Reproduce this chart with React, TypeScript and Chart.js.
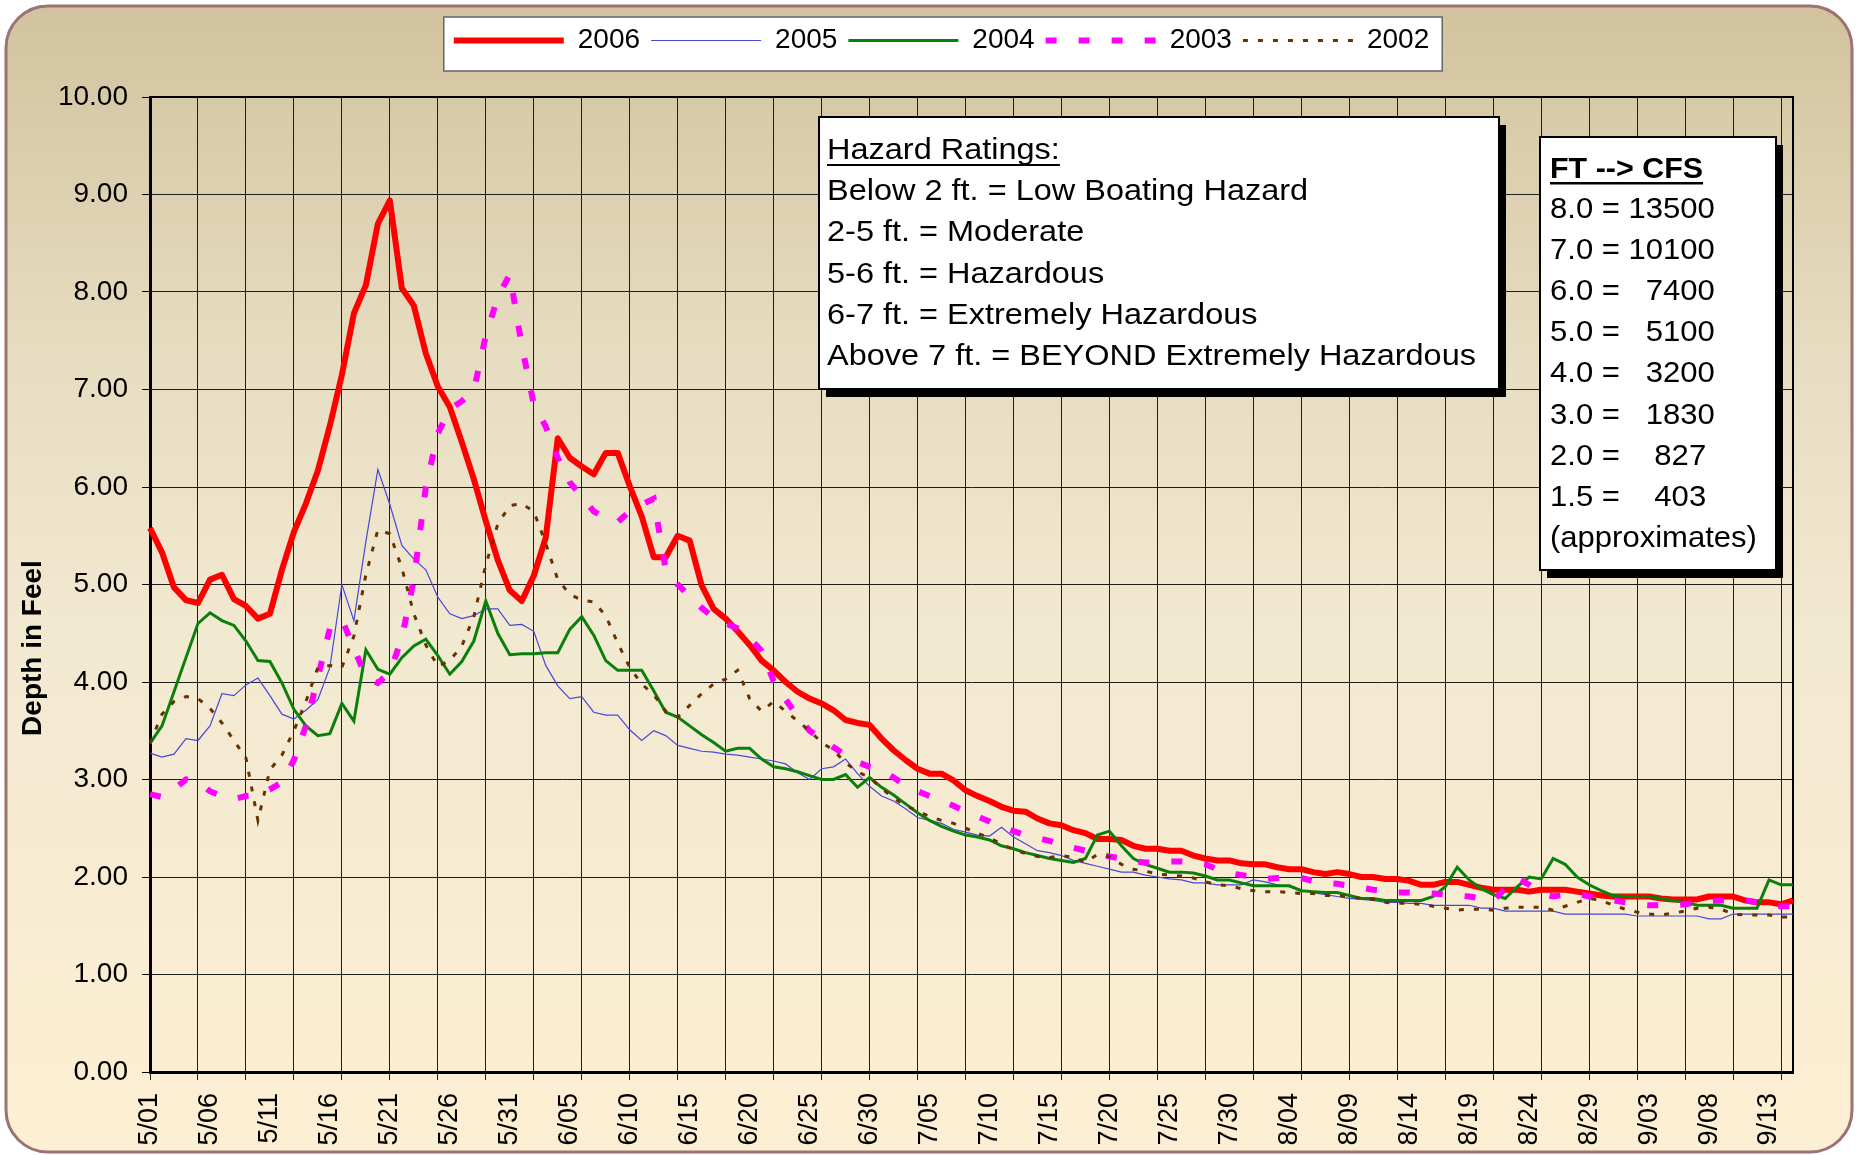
import React, { useEffect, useRef } from 'react';
import { Chart, registerables } from 'chart.js';

Chart.register(...registerables);

const FONT = "'Liberation Sans', Arial, Helvetica, sans-serif";
Chart.defaults.font.family = FONT;

const dates = [
  '5/01','5/02','5/03','5/04','5/05','5/06','5/07','5/08','5/09','5/10',
  '5/11','5/12','5/13','5/14','5/15','5/16','5/17','5/18','5/19','5/20',
  '5/21','5/22','5/23','5/24','5/25','5/26','5/27','5/28','5/29','5/30','5/31',
  '6/01','6/02','6/03','6/04','6/05','6/06','6/07','6/08','6/09','6/10',
  '6/11','6/12','6/13','6/14','6/15','6/16','6/17','6/18','6/19','6/20',
  '6/21','6/22','6/23','6/24','6/25','6/26','6/27','6/28','6/29','6/30',
  '7/01','7/02','7/03','7/04','7/05','7/06','7/07','7/08','7/09','7/10',
  '7/11','7/12','7/13','7/14','7/15','7/16','7/17','7/18','7/19','7/20',
  '7/21','7/22','7/23','7/24','7/25','7/26','7/27','7/28','7/29','7/30','7/31',
  '8/01','8/02','8/03','8/04','8/05','8/06','8/07','8/08','8/09','8/10',
  '8/11','8/12','8/13','8/14','8/15','8/16','8/17','8/18','8/19','8/20',
  '8/21','8/22','8/23','8/24','8/25','8/26','8/27','8/28','8/29','8/30','8/31',
  '9/01','9/02','9/03','9/04','9/05','9/06','9/07','9/08','9/09','9/10',
  '9/11','9/12','9/13','9/14','9/15',
];

const depth2006 = [
  5.58,5.33,4.97,4.84,4.81,5.05,5.10,4.85,4.78,4.65,
  4.70,5.15,5.54,5.83,6.17,6.63,7.15,7.78,8.07,8.70,
  8.94,8.04,7.86,7.37,7.03,6.82,6.46,6.08,5.65,5.25,
  4.94,4.83,5.09,5.48,6.50,6.30,6.21,6.13,6.35,6.35,
  6.01,5.70,5.28,5.28,5.50,5.45,4.99,4.75,4.65,4.52,
  4.38,4.22,4.12,4.00,3.90,3.83,3.78,3.71,3.61,3.58,
  3.56,3.42,3.30,3.20,3.11,3.06,3.06,2.99,2.89,2.83,
  2.78,2.72,2.68,2.67,2.60,2.55,2.53,2.48,2.45,2.39,
  2.39,2.38,2.32,2.29,2.29,2.27,2.27,2.22,2.19,2.17,
  2.17,2.14,2.13,2.13,2.10,2.08,2.08,2.05,2.03,2.05,
  2.03,2.00,2.00,1.98,1.98,1.96,1.92,1.92,1.95,1.95,
  1.92,1.89,1.87,1.87,1.87,1.85,1.87,1.87,1.87,1.85,
  1.83,1.81,1.80,1.80,1.80,1.80,1.78,1.77,1.77,1.77,
  1.80,1.80,1.80,1.76,1.74,1.74,1.72,1.76,
];

const depth2005 = [
  3.27,3.23,3.26,3.42,3.40,3.55,3.88,3.86,3.97,4.04,
  3.86,3.67,3.62,3.71,3.82,4.15,5.00,4.63,5.44,6.18,
  5.82,5.40,5.26,5.15,4.87,4.70,4.65,4.68,4.75,4.75,
  4.58,4.59,4.52,4.17,3.96,3.83,3.85,3.69,3.66,3.66,
  3.51,3.40,3.50,3.45,3.35,3.32,3.29,3.28,3.26,3.25,
  3.23,3.21,3.19,3.16,3.07,3.00,3.11,3.13,3.21,3.06,
  2.93,2.83,2.78,2.70,2.61,2.58,2.55,2.49,2.46,2.43,
  2.42,2.51,2.41,2.34,2.27,2.25,2.22,2.17,2.14,2.11,
  2.08,2.05,2.05,2.02,2.00,1.98,1.97,1.94,1.94,1.92,
  1.92,1.92,1.97,1.95,1.92,1.90,1.86,1.84,1.82,1.80,
  1.78,1.77,1.76,1.74,1.74,1.73,1.73,1.71,1.71,1.71,
  1.71,1.68,1.68,1.65,1.65,1.65,1.65,1.65,1.62,1.62,
  1.62,1.62,1.62,1.62,1.60,1.60,1.60,1.60,1.60,1.60,
  1.57,1.57,1.62,1.62,1.62,1.62,1.62,1.62,
];

const depth2004 = [
  3.37,3.55,3.90,4.25,4.60,4.71,4.63,4.58,4.42,4.22,
  4.21,3.99,3.72,3.55,3.45,3.47,3.78,3.60,4.33,4.13,
  4.08,4.25,4.37,4.44,4.27,4.08,4.21,4.42,4.83,4.50,
  4.28,4.29,4.29,4.30,4.30,4.54,4.67,4.48,4.22,4.12,
  4.12,4.12,3.91,3.69,3.64,3.55,3.46,3.38,3.29,3.32,
  3.32,3.21,3.13,3.11,3.08,3.04,3.00,3.00,3.05,2.92,
  3.02,2.92,2.84,2.75,2.66,2.58,2.52,2.47,2.43,2.41,
  2.38,2.32,2.29,2.25,2.22,2.19,2.17,2.15,2.19,2.43,
  2.47,2.32,2.19,2.13,2.09,2.05,2.05,2.04,2.01,1.97,
  1.97,1.94,1.91,1.91,1.91,1.91,1.86,1.85,1.84,1.84,
  1.81,1.78,1.78,1.76,1.76,1.76,1.76,1.80,1.90,2.10,
  1.97,1.88,1.82,1.78,1.90,2.00,1.98,2.19,2.13,2.00,
  1.92,1.86,1.81,1.80,1.80,1.80,1.78,1.76,1.74,1.71,
  1.71,1.71,1.68,1.68,1.68,1.97,1.92,1.92,
];

const depth2003 = [
  2.85,2.82,2.90,3.00,2.98,2.88,2.83,2.80,2.83,2.84,
  2.90,2.97,3.20,3.55,4.05,4.55,4.64,4.35,4.05,3.99,
  4.10,4.45,5.05,6.00,6.55,6.80,6.88,6.99,7.55,7.95,
  8.18,7.45,6.85,6.62,6.30,6.05,5.90,5.75,5.68,5.64,
  5.75,5.82,5.88,5.15,5.00,4.88,4.76,4.66,4.60,4.55,
  4.45,4.32,4.01,3.82,3.65,3.50,3.42,3.33,3.25,3.18,
  3.13,3.10,3.02,2.94,2.88,2.83,2.78,2.73,2.67,2.62,
  2.57,2.51,2.47,2.43,2.40,2.37,2.33,2.30,2.27,2.24,
  2.21,2.19,2.16,2.15,2.15,2.16,2.16,2.15,2.13,2.08,
  2.04,2.02,2.00,1.98,1.99,2.00,1.99,1.96,1.94,1.93,
  1.91,1.89,1.87,1.86,1.84,1.84,1.83,1.83,1.82,1.81,
  1.80,1.78,1.76,1.88,1.99,1.92,1.83,1.80,1.82,1.83,
  1.80,1.78,1.76,1.74,1.72,1.71,1.71,1.71,1.72,1.74,
  1.75,1.76,1.76,1.76,1.74,1.71,1.70,1.70,
];

const depth2002 = [
  3.37,3.67,3.80,3.85,3.83,3.73,3.58,3.40,3.22,2.58,
  3.10,3.25,3.50,3.80,4.15,4.17,4.15,4.47,5.10,5.56,
  5.52,5.17,4.70,4.38,4.16,4.22,4.37,4.67,5.20,5.62,
  5.81,5.83,5.75,5.42,5.05,4.90,4.84,4.82,4.68,4.40,
  4.15,3.98,3.87,3.70,3.64,3.76,3.88,3.98,4.03,4.12,
  3.83,3.70,3.80,3.70,3.60,3.50,3.38,3.30,3.17,3.08,
  3.02,2.91,2.81,2.73,2.68,2.62,2.58,2.55,2.50,2.45,
  2.40,2.34,2.28,2.24,2.21,2.20,2.22,2.20,2.15,2.23,
  2.21,2.13,2.08,2.06,2.03,2.02,2.01,1.99,1.95,1.92,
  1.91,1.88,1.86,1.85,1.85,1.84,1.83,1.83,1.81,1.81,
  1.80,1.78,1.77,1.74,1.73,1.73,1.72,1.70,1.68,1.66,
  1.67,1.67,1.66,1.68,1.69,1.69,1.69,1.66,1.70,1.74,
  1.78,1.76,1.71,1.67,1.64,1.62,1.61,1.63,1.65,1.68,
  1.69,1.67,1.62,1.61,1.61,1.61,1.59,1.59,
];

const yAxisTitle = 'Depth in Feel';
const hazardTitle = 'Hazard Ratings:';
const hazardLines = [
  'Below 2 ft. = Low Boating Hazard',
  '2-5 ft. = Moderate',
  '5-6 ft. = Hazardous',
  '6-7 ft. = Extremely Hazardous',
  'Above 7 ft. = BEYOND Extremely Hazardous',
];
const cfsTitle = 'FT --> CFS';
const cfsLines = [
  '8.0 = 13500',
  '7.0 = 10100',
  '6.0 =   7400',
  '5.0 =   5100',
  '4.0 =   3200',
  '3.0 =   1830',
  '2.0 =    827',
  '1.5 =    403',
  '(approximates)',
];

function roundRectPath(ctx: CanvasRenderingContext2D, x: number, y: number, w: number, h: number, r: number) {
  ctx.moveTo(x + r, y);
  ctx.lineTo(x + w - r, y);
  ctx.arcTo(x + w, y, x + w, y + r, r);
  ctx.lineTo(x + w, y + h - r);
  ctx.arcTo(x + w, y + h, x + w - r, y + h, r);
  ctx.lineTo(x + r, y + h);
  ctx.arcTo(x, y + h, x, y + h - r, r);
  ctx.lineTo(x, y + r);
  ctx.arcTo(x, y, x + r, y, r);
  ctx.closePath();
}

function drawStretched(ctx: CanvasRenderingContext2D, text: string, x: number, y: number, sx: number) {
  ctx.save();
  ctx.translate(x, y);
  ctx.scale(sx, 1);
  ctx.fillText(text, 0, 0);
  ctx.restore();
  return ctx.measureText(text).width * sx;
}

function drawNoteBox(ctx: CanvasRenderingContext2D, x: number, y: number, w: number, h: number) {
  ctx.fillStyle = '#000';
  ctx.fillRect(x + 7, y + 8, w, h);
  ctx.fillStyle = '#fff';
  ctx.fillRect(x, y, w, h);
  ctx.lineWidth = 2;
  ctx.strokeStyle = '#000';
  ctx.strokeRect(x, y, w, h);
}

const decorPlugin = {
  id: 'decor',
  afterLayout(chart: any) {
    const lg = chart.legend;
    if (lg) {
      lg.left = chart.chartArea.left - 60;
      lg.width = lg.right - lg.left;
    }
  },
  beforeDraw(chart: any) {
    const ctx: CanvasRenderingContext2D = chart.ctx;
    const W = chart.width;
    const H = chart.height;
    ctx.save();
    ctx.fillStyle = '#ffffff';
    ctx.fillRect(0, 0, W, H);
    const bx = 6, by = 6, bw = W - 12, bh = H - 9;
    const g = ctx.createLinearGradient(0, by, 0, by + bh);
    g.addColorStop(0, '#d2c39e');
    g.addColorStop(0.3, '#e6dcc0');
    g.addColorStop(0.55, '#f2e9d1');
    g.addColorStop(1, '#fdefd3');
    ctx.beginPath();
    roundRectPath(ctx, bx, by, bw, bh, 42);
    ctx.fillStyle = g;
    ctx.fill();
    ctx.lineWidth = 3;
    ctx.strokeStyle = '#9c7272';
    ctx.stroke();

    const lg = chart.legend;
    const hb = lg && lg.legendHitBoxes;
    if (hb && hb.length) {
      const first = hb[0];
      const last = hb[hb.length - 1];
      const lx = first.left - 10;
      const rx = last.left + last.width + 13;
      ctx.fillStyle = '#ffffff';
      ctx.fillRect(lx, 17, rx - lx, 54);
      ctx.lineWidth = 1.5;
      ctx.strokeStyle = '#666666';
      ctx.strokeRect(lx, 17, rx - lx, 54);
    }
    ctx.restore();
  },
  beforeDatasetsDraw(chart: any) {
    const ctx: CanvasRenderingContext2D = chart.ctx;
    const a = chart.chartArea;
    ctx.save();
    ctx.strokeStyle = '#000';
    ctx.lineWidth = 2;
    ctx.beginPath();
    ctx.moveTo(a.left, a.top);
    ctx.lineTo(a.right, a.top);
    ctx.lineTo(a.right, a.bottom);
    ctx.stroke();
    ctx.restore();
  },
  afterDraw(chart: any) {
    const ctx: CanvasRenderingContext2D = chart.ctx;
    ctx.save();
    ctx.fillStyle = '#000';
    ctx.font = `bold 28px ${FONT}`;
    ctx.textAlign = 'center';
    ctx.textBaseline = 'middle';
    ctx.translate(33, 648);
    ctx.rotate(-Math.PI / 2);
    ctx.fillText(yAxisTitle, 0, 0);
    ctx.restore();

    ctx.save();
    ctx.textAlign = 'left';
    ctx.textBaseline = 'alphabetic';
    drawNoteBox(ctx, 819, 117, 680, 272);
    ctx.fillStyle = '#000';
    ctx.font = `29px ${FONT}`;
    const tw = drawStretched(ctx, hazardTitle, 827, 159, 1.12);
    ctx.fillRect(827, 164, tw, 2);
    hazardLines.forEach((t, i) => {
      drawStretched(ctx, t, 827, 200 + i * 41.3, 1.12);
    });

    drawNoteBox(ctx, 1540, 137, 236, 433);
    ctx.fillStyle = '#000';
    ctx.font = `bold 29px ${FONT}`;
    const tw2 = drawStretched(ctx, cfsTitle, 1550, 178, 1.05);
    ctx.fillRect(1550, 182, tw2, 2.5);
    ctx.font = `29px ${FONT}`;
    cfsLines.forEach((t, i) => {
      drawStretched(ctx, t, 1550, 218 + i * 41.1, 1.07);
    });
    ctx.restore();
  },
};

export default function App() {
  const ref = useRef<HTMLCanvasElement | null>(null);

  useEffect(() => {
    const canvas = ref.current;
    if (!canvas) return;
    const gridColor = (c: any) => (c.index % 4 === 0 ? '#1e1e1e' : 'rgba(0,0,0,0)');
    const chart = new Chart(canvas, {
      type: 'line',
      data: {
        labels: dates,
        datasets: [
          { label: '2006', data: depth2006, borderColor: '#ff0000', backgroundColor: 'rgba(0,0,0,0)', borderWidth: 6, borderJoinStyle: 'round', order: 5 },
          { label: '2005', data: depth2005, borderColor: '#4848d6', backgroundColor: 'rgba(0,0,0,0)', borderWidth: 1.2, order: 4 },
          { label: '2004', data: depth2004, borderColor: '#0a800a', backgroundColor: 'rgba(0,0,0,0)', borderWidth: 3, order: 3 },
          { label: '2003', data: depth2003, borderColor: '#ff00ff', backgroundColor: 'rgba(0,0,0,0)', borderWidth: 6, borderDash: [11, 22], order: 2 },
          { label: '2002', data: depth2002, borderColor: '#663300', backgroundColor: 'rgba(0,0,0,0)', borderWidth: 3, borderDash: [5, 10], order: 1 },
        ] as any,
      },
      options: {
        responsive: false,
        animation: false,
        devicePixelRatio: 1,
        layout: { padding: { left: 0, right: 65, top: 15.5, bottom: 0 } },
        elements: {
          point: { radius: 0, hoverRadius: 0 },
          line: { tension: 0, fill: false },
        },
        plugins: {
          legend: {
            display: true,
            position: 'top',
            labels: {
              usePointStyle: true,
              pointStyle: 'line',
              pointStyleWidth: 110,
              boxHeight: 10,
              padding: 11,
              color: '#000',
              font: { size: 28, family: FONT },
              sort: (a: any, b: any) => a.datasetIndex - b.datasetIndex,
              generateLabels: (ch: any) => {
                const items = Chart.defaults.plugins.legend.labels.generateLabels(ch);
                return items.map((it: any) => {
                  const ds: any = ch.data.datasets[it.datasetIndex];
                  return {
                    ...it,
                    lineWidth: ds.borderWidth,
                    lineDash: ds.borderDash || [],
                    strokeStyle: ds.borderColor,
                    fillStyle: 'rgba(0,0,0,0)',
                    lineCap: 'butt',
                    pointStyle: 'line',
                  };
                });
              },
            },
          } as any,
          title: {
            display: true,
            text: '',
            position: 'top',
            weight: 500,
            font: { size: 10, lineHeight: 1 },
            padding: { top: 0, bottom: 22.5 },
          } as any,
          tooltip: { enabled: false },
        },
        scales: {
          x: {
            type: 'category',
            offset: false,
            grid: {
              display: true,
              drawOnChartArea: true,
              drawTicks: true,
              tickLength: 8,
              lineWidth: 1,
              color: gridColor,
              tickColor: gridColor,
            },
            border: { display: true, color: '#000', width: 3 },
            ticks: {
              autoSkip: false,
              maxRotation: 90,
              minRotation: 90,
              padding: 13,
              color: '#000',
              font: { size: 27 },
              callback: (_v: any, index: number) => (index % 5 === 0 ? dates[index] : ''),
            },
            afterFit: (s: any) => {
              s.height = 83;
            },
          } as any,
          y: {
            type: 'linear',
            min: 0,
            max: 10,
            grid: {
              color: '#1e1e1e',
              lineWidth: 1,
              tickLength: 8,
              tickColor: '#000',
            },
            border: { display: true, color: '#000', width: 3 },
            ticks: {
              stepSize: 1,
              padding: 14,
              color: '#000',
              font: { size: 28 },
              callback: (v: any) => Number(v).toFixed(2),
            },
            afterFit: (s: any) => {
              s.width = 150;
            },
          } as any,
        },
      },
      plugins: [decorPlugin as any],
    });
    return () => {
      chart.destroy();
    };
  }, []);

  return (
    <div style={{ position: 'fixed', left: 0, top: 0, width: 1858, height: 1155, background: '#fff' }}>
      <canvas ref={ref} width={1858} height={1155} style={{ display: 'block', width: 1858, height: 1155 }} />
    </div>
  );
}
